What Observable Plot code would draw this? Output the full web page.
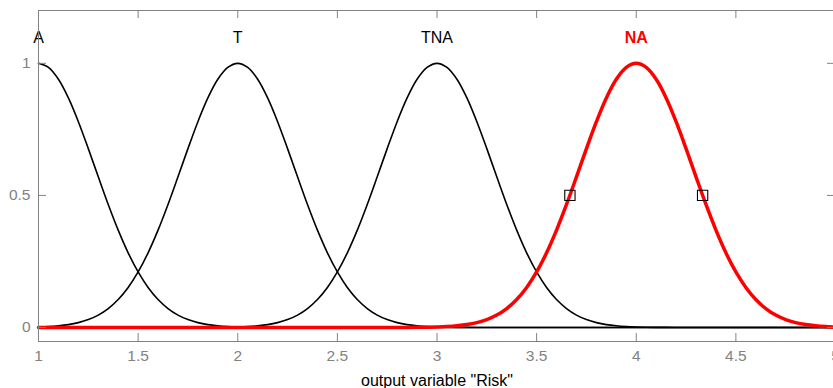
<!DOCTYPE html>
<html><head><meta charset="utf-8">
<script src="https://cdn.jsdelivr.net/npm/d3@7"></script>
<script src="https://cdn.jsdelivr.net/npm/@observablehq/plot@0.6"></script>
<style>body{margin:0;background:#fff}svg{display:block}</style>
</head><body><div id="chart"></div>
<script>
const xs = [1,1.05,1.1,1.15,1.2,1.25,1.3,1.35,1.4,1.45,1.5,1.55,1.6,1.65,1.7,1.75,1.8,1.85,1.9,1.95,
  2,2.05,2.1,2.15,2.2,2.25,2.3,2.35,2.4,2.45,2.5,2.55,2.6,2.65,2.7,2.75,2.8,2.85,2.9,2.95,
  3,3.05,3.1,3.15,3.2,3.25,3.3,3.35,3.4,3.45,3.5,3.55,3.6,3.65,3.7,3.75,3.8,3.85,3.9,3.95,
  4,4.05,4.1,4.15,4.2,4.25,4.3,4.35,4.4,4.45,4.5,4.55,4.6,4.65,4.7,4.75,4.8,4.85,4.9,4.95,5];

const mfA = [1,.9845,.9395,.869,.7791,.6771,.5704,.4657,.3685,.2827,.2102,.1515,.1058,.0717,.047,.0299,.0185,.011,.0064,.0036,
  .002,.001,.0005,.0003,.0001,0,0,0,0,0,0,0,0,0,0,0,0,0,0,0,
  0,0,0,0,0,0,0,0,0,0,0,0,0,0,0,0,0,0,0,0,
  0,0,0,0,0,0,0,0,0,0,0,0,0,0,0,0,0,0,0,0,0];
const mfT = [.002,.0036,.0064,.011,.0185,.0299,.047,.0717,.1058,.1515,.2102,.2827,.3685,.4657,.5704,.6771,.7791,.869,.9395,.9845,
  1,.9845,.9395,.869,.7791,.6771,.5704,.4657,.3685,.2827,.2102,.1515,.1058,.0717,.047,.0299,.0185,.011,.0064,.0036,
  .002,.001,.0005,.0003,.0001,0,0,0,0,0,0,0,0,0,0,0,0,0,0,0,
  0,0,0,0,0,0,0,0,0,0,0,0,0,0,0,0,0,0,0,0,0];
const mfTNA = [0,0,0,0,0,0,0,0,0,0,0,0,0,0,0,0,.0001,.0003,.0005,.001,
  .002,.0036,.0064,.011,.0185,.0299,.047,.0717,.1058,.1515,.2102,.2827,.3685,.4657,.5704,.6771,.7791,.869,.9395,.9845,
  1,.9845,.9395,.869,.7791,.6771,.5704,.4657,.3685,.2827,.2102,.1515,.1058,.0717,.047,.0299,.0185,.011,.0064,.0036,
  .002,.001,.0005,.0003,.0001,0,0,0,0,0,0,0,0,0,0,0,0,0,0,0,0];
const mfNA = [0,0,0,0,0,0,0,0,0,0,0,0,0,0,0,0,0,0,0,0,
  0,0,0,0,0,0,0,0,0,0,0,0,0,0,0,0,.0001,.0003,.0005,.001,
  .002,.0036,.0064,.011,.0185,.0299,.047,.0717,.1058,.1515,.2102,.2827,.3685,.4657,.5704,.6771,.7791,.869,.9395,.9845,
  1,.9845,.9395,.869,.7791,.6771,.5704,.4657,.3685,.2827,.2102,.1515,.1058,.0717,.047,.0299,.0185,.011,.0064,.0036,.002];

const mfNames = ["A", "T", "TNA", "NA"];
const mfCenters = [1, 2, 3, 4];
const selectedMF = "NA";
const xTicks = [1, 1.5, 2, 2.5, 3, 3.5, 4, 4.5, 5];
const yTicks = [0, 0.5, 1];
const markerX = [3.667, 4.333];
const markerY = [0.5, 0.5];
const xLabel = 'output variable "Risk"';

const series = [mfA, mfT, mfTNA, mfNA];
const rows = [];
series.forEach((s, i) => s.forEach((v, j) => rows.push({x: xs[j], y: v, mf: mfNames[i]})));
const blackRows = rows.filter(r => r.mf !== selectedMF);
const redRows = rows.filter(r => r.mf === selectedMF);
const labels = mfNames.map((n, i) => ({name: n, x: mfCenters[i]}));
const blackLabels = labels.filter(d => d.name !== selectedMF);
const redLabels = labels.filter(d => d.name === selectedMF);
const markers = markerX.map((x, i) => ({x, y: markerY[i]}));

const gray = "#828282";
const font = "'Liberation Sans', Arial, Helvetica, sans-serif";
const W = 833, H = 388, mL = 38, mR = -2, mT = 10, mB = 47;
const fw = W - mL - mR, fh = H - mT - mB, tick = 8;

const chart = Plot.plot({
  width: W, height: H,
  marginLeft: mL, marginRight: mR, marginTop: mT, marginBottom: mB,
  style: {fontFamily: font, fontSize: "15px", background: "#fff", overflow: "hidden"},
  x: {domain: [1, 5]},
  y: {domain: [-0.053, 1.2]},
  marks: [
    Plot.line(blackRows, {x: "x", y: "y", z: "mf", stroke: "#000", strokeWidth: 1.6, curve: "catmull-rom"}),
    Plot.line(redRows, {x: "x", y: "y", stroke: "#ff0000", strokeWidth: 3.5, curve: "catmull-rom"}),
    Plot.dot(markers, {x: "x", y: "y", symbol: "square", r: 5.8, stroke: "#000", strokeWidth: 1.1, fill: "none"}),
    Plot.text(blackLabels, {x: "x", y: 1.076, text: "name", lineAnchor: "bottom", fontSize: 16, fill: "#000"}),
    Plot.text(redLabels, {x: "x", y: 1.076, text: "name", lineAnchor: "bottom", fontSize: 16, fill: "#ff0000", fontWeight: "bold"}),
    Plot.frame({stroke: gray}),
    // inward tick marks
    Plot.tickX(xTicks, {x: d => d, stroke: gray, insetTop: fh - tick}),
    Plot.tickX(xTicks, {x: d => d, stroke: gray, insetBottom: fh - tick}),
    Plot.tickY(yTicks, {y: d => d, stroke: gray, insetRight: fw - tick}),
    Plot.tickY(yTicks, {y: d => d, stroke: gray, insetLeft: fw - tick}),
    // tick labels
    Plot.axisX({ticks: xTicks, anchor: "bottom", tickSize: 0, tickPadding: 8, color: gray, label: null, fontSize: 15.5, tickFormat: d => String(d)}),
    Plot.axisY({ticks: yTicks, anchor: "left", tickSize: 0, tickPadding: 8, color: gray, label: null, fontSize: 15.5, tickFormat: d => String(d)}),
    Plot.text([xLabel], {frameAnchor: "bottom", text: d => d, dy: 44, fontSize: 16, fill: "#000", lineAnchor: "bottom"})
  ]
});
document.getElementById("chart").appendChild(chart);
</script>
</body></html>
